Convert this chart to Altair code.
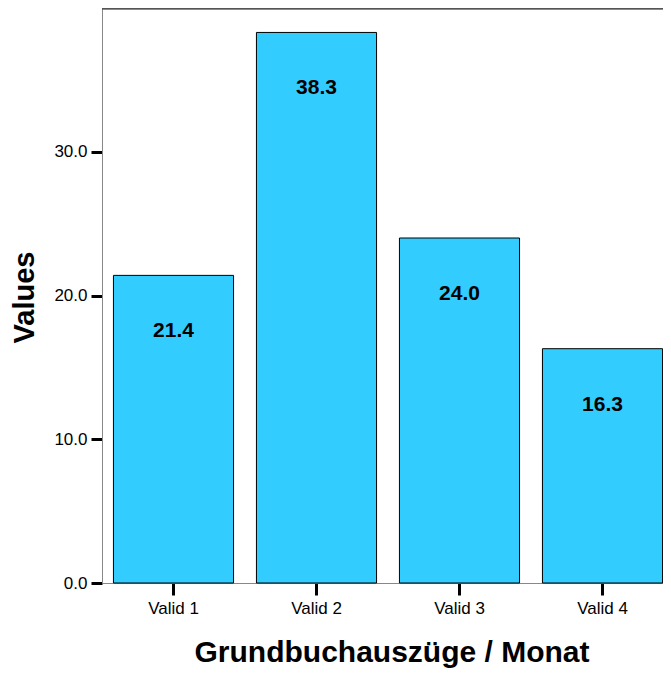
import altair as alt
import pandas as pd

categories = ["Valid 1", "Valid 2", "Valid 3", "Valid 4"]
values = [21.4, 38.3, 24.0, 16.3]
y_ticks = [0, 10, 20, 30]

df = pd.DataFrame({"cat": categories, "val": values})
df["label"] = [f"{v:.1f}" for v in values]

FONT = "Liberation Sans"
VIEW_W = 561

x_enc = alt.X(
    "cat:N",
    sort=categories,
    scale=alt.Scale(range=[0, 572], paddingInner=0.16, paddingOuter=0.08),
    axis=alt.Axis(
        title="Grundbuchauszüge / Monat",
        labelAngle=0,
        labelFontSize=17,
        labelFont=FONT,
        labelColor="black",
        labelPadding=5,
        tickColor="black",
        tickWidth=3,
        tickSize=12,
        domainColor="#888888",
        domainWidth=1,
        titleFont=FONT,
        titleFontSize=30,
        titleFontWeight="bold",
        titleColor="black",
        titleX=289.5,
        titleY=78,
        titleAlign="center",
        titleBaseline="alphabetic",
        grid=False,
    ),
)

y_enc = alt.Y(
    "val:Q",
    scale=alt.Scale(domain=[0, 40], nice=False),
    axis=alt.Axis(
        title="Values",
        values=y_ticks,
        format=".1f",
        labelFontSize=17,
        labelFont=FONT,
        labelColor="black",
        labelPadding=4,
        tickColor="black",
        tickWidth=3,
        tickSize=11,
        domainColor="#888888",
        domainWidth=1,
        titleFont=FONT,
        titleFontSize=29,
        titleFontWeight="bold",
        titleColor="black",
        titleAngle=270,
        titleX=-69,
        titleY=289,
        titleAlign="center",
        titleBaseline="alphabetic",
        grid=False,
    ),
)

bars = alt.Chart(df).mark_bar(
    color="#33CCFF", stroke="black", strokeWidth=1
).encode(x=x_enc, y=y_enc)

labels = alt.Chart(df).mark_text(
    font=FONT, fontSize=21, fontWeight="bold", color="black",
    baseline="alphabetic", align="center", dy=62
).encode(
    x=alt.X("cat:N", sort=categories),
    y=alt.Y("val:Q"),
    text="label:N",
)

top_border = alt.Chart(df).mark_rule(color="#555555", strokeWidth=1.5).encode(
    x=alt.value(0), x2=alt.value(VIEW_W), y=alt.value(0.5)
)

chart = (
    alt.layer(bars, labels, top_border)
    .properties(
        width=VIEW_W,
        height=575,
        autosize=alt.AutoSizeParams(type="none"),
        padding={"left": 94, "top": 0, "right": 0, "bottom": 86},
    )
    .configure_view(stroke=None)
)

chart.save("out.html", embed_options={"renderer": "svg", "actions": False})
